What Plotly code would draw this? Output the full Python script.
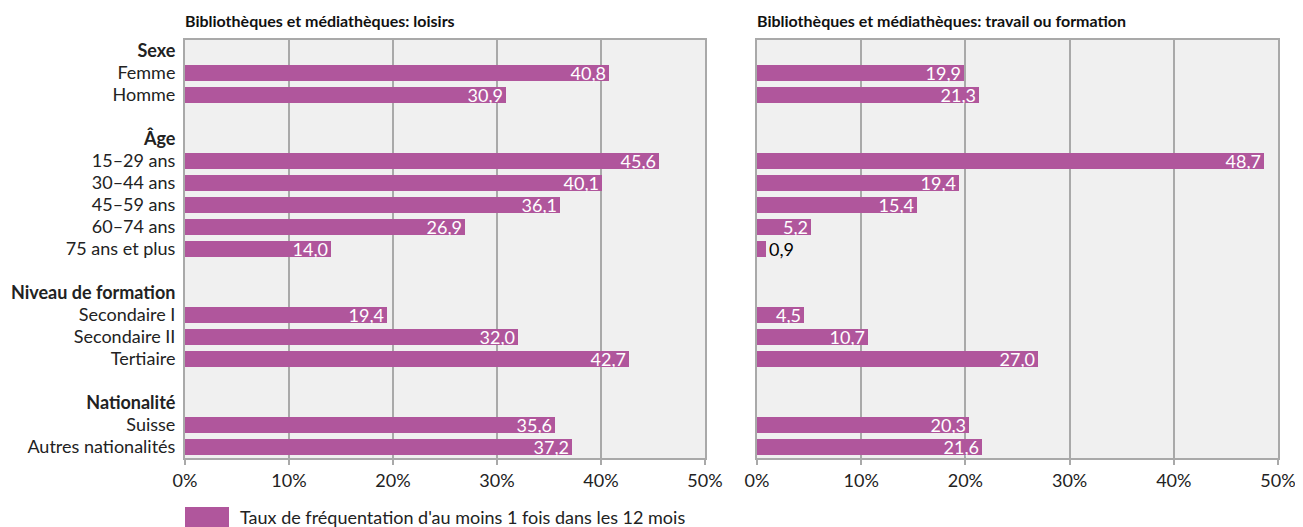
import plotly.graph_objects as go

# row layout of the y axis: group headers, items, blank spacer rows
row_labels = ["<b>Sexe</b>", "Femme", "Homme", "",
              "<b>Âge</b>", "15–29 ans", "30–44 ans", "45–59 ans", "60–74 ans", "75 ans et plus", "",
              "<b>Niveau de formation</b>", "Secondaire I", "Secondaire II", "Tertiaire", "",
              "<b>Nationalité</b>", "Suisse", "Autres nationalités"]
categories = ["Femme", "Homme", "15–29 ans", "30–44 ans", "45–59 ans", "60–74 ans", "75 ans et plus",
              "Secondaire I", "Secondaire II", "Tertiaire", "Suisse", "Autres nationalités"]
loisirs = [40.8, 30.9, 45.6, 40.1, 36.1, 26.9, 14.0, 19.4, 32.0, 42.7, 35.6, 37.2]
travail = [19.9, 21.3, 48.7, 19.4, 15.4, 5.2, 0.9, 4.5, 10.7, 27.0, 20.3, 21.6]
x_ticks = [0, 10, 20, 30, 40, 50]

titles = ["Bibliothèques et médiathèques: loisirs",
          "Bibliothèques et médiathèques: travail ou formation"]
legend_label = "Taux de fréquentation d'au moins 1 fois dans les 12 mois"

BAR = "#B0569C"
GRID = "#A9A9A9"
FONT = "Lato"
FS = 18

# page body has an 8px offset, so the figure is sized to fit the window
W, H = 1295, 519
L, R, T, B = 177, 25, 32, 69
PW, PH = W - L - R, H - T - B

y_pos = [row_labels.index(c) for c in categories]


def fmt(v):
    return f"{v:.1f}".replace(".", ",")


fig = go.Figure()
for vals, xa, ya in [(loisirs, "x", "y"), (travail, "x2", "y2")]:
    fig.add_trace(go.Bar(
        x=vals, y=y_pos, orientation="h", xaxis=xa, yaxis=ya,
        marker=dict(color=BAR, line_width=0), width=0.77,
        text=[fmt(v) for v in vals],
        textposition=["inside" if v > 2 else "outside" for v in vals],
        insidetextanchor="end", constraintext="none",
        insidetextfont=dict(color="white", size=FS, family=FONT),
        outsidetextfont=dict(color="black", size=FS, family=FONT),
        cliponaxis=False, showlegend=False, hoverinfo="skip",
    ))

xcommon = dict(range=[0, 50], tickvals=x_ticks, ticktext=[f"{t}%" for t in x_ticks],
               showgrid=True, gridcolor=GRID, gridwidth=2, zeroline=False,
               showline=True, linecolor=GRID, linewidth=2, mirror=True,
               ticks="outside", ticklen=5, tickcolor=GRID, tickwidth=2,
               tickfont=dict(size=FS, color="#222", family=FONT), fixedrange=True,
               automargin=False)
ycommon = dict(range=[len(row_labels) - 0.5, -0.5], showgrid=False, zeroline=False,
               showline=True, linecolor=GRID, linewidth=2, mirror=True, ticks="", fixedrange=True,
               automargin=False)

x2_start = 572 / PW

fig.update_layout(
    width=W, height=H,
    margin=dict(l=L, r=R, t=T, b=B),
    paper_bgcolor="white", plot_bgcolor="#F0F0F0",
    font=dict(family=FONT, size=FS, color="#222"),
    xaxis=dict(domain=[0, 520 / PW], anchor="y", **xcommon),
    xaxis2=dict(domain=[x2_start, 1], anchor="y2", **xcommon),
    yaxis=dict(domain=[0, 1], anchor="x", tickvals=list(range(len(row_labels))), ticktext=row_labels,
               tickfont=dict(size=FS, color="#222", family=FONT), ticklabelstandoff=4, **ycommon),
    yaxis2=dict(domain=[0, 1], anchor="x2", showticklabels=False, **ycommon),
    bargap=0,
)

for i, t in enumerate(titles):
    fig.add_annotation(text=f"<b>{t}</b>", xref="paper", yref="paper",
                       x=[0, x2_start][i], y=1, yshift=20, xanchor="left", yanchor="middle",
                       xshift=-2, showarrow=False, font=dict(size=16, color="#111", family=FONT))

# legend: swatch + label below the left panel
fig.add_shape(type="rect", xref="paper", yref="paper", x0=0, x1=44 / PW,
              y0=-69 / PH, y1=-49 / PH, fillcolor=BAR, line_width=0)
fig.add_annotation(text=legend_label, xref="paper", yref="paper", x=53 / PW, y=-59 / PH,
                   xanchor="left", yanchor="middle", showarrow=False,
                   font=dict(size=FS, color="#222", family=FONT))

fig.write_html("out.html")
